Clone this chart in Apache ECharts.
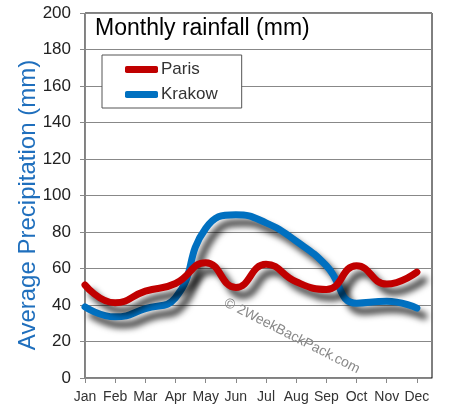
<!DOCTYPE html>
<html>
<head>
<meta charset="utf-8">
<script src="https://cdn.jsdelivr.net/npm/echarts@6/dist/echarts.min.js"></script>
<style>html,body{margin:0;padding:0;background:#fff}#c{width:452px;height:418px}</style>
</head>
<body>
<div id="c"></div>
<script>
const months = ['Jan','Feb','Mar','Apr','May','Jun','Jul','Aug','Sep','Oct','Nov','Dec'];
const paris = [51.0, 41.2, 47.6, 51.8, 63.2, 49.6, 62.3, 52.7, 48.5, 61.5, 51.5, 58.0];
const krakow = [39, 33.5, 38, 44, 82, 89.5, 85, 75, 61.5, 41, 42, 38.3];
const yTicks = [0, 20, 40, 60, 80, 100, 120, 140, 160, 180, 200];
const titleText = 'Monthly rainfall (mm)';
const yName = 'Average Precipitation (mm)';
const watermark = '\u00A9 2WeekBackPack.com';

const font = 'Liberation Sans';
const idx = months.map((m, i) => i);
const shadow = {shadowColor: 'rgba(0,0,0,0.75)', shadowBlur: 6, shadowOffsetX: 7, shadowOffsetY: 8};

const chart = echarts.init(document.getElementById('c'), null, {renderer: 'canvas'});
chart.setOption({
  animation: false,
  textStyle: {fontFamily: font},
  grid: {left: 85, top: 13, right: 20, bottom: 40, show: true, borderColor: '#000', borderWidth: 1},
  title: {text: titleText, left: 95, top: 17, padding: 0,
    textStyle: {fontFamily: font, fontSize: 23, fontWeight: 'normal', color: '#000'}},
  legend: {
    orient: 'vertical', left: 102, top: 55,
    padding: [6, 24, 5, 23], itemGap: 8, itemWidth: 33, itemHeight: 7,
    borderColor: '#555', borderWidth: 1, backgroundColor: '#fff',
    icon: 'roundRect',
    textStyle: {fontFamily: font, fontSize: 17, color: '#333', padding: [0,0,0,-2]},
    itemStyle: {shadowBlur: 0, shadowOffsetX: 0, shadowOffsetY: 0, shadowColor: 'transparent'},
    lineStyle: {shadowBlur: 0, shadowOffsetX: 0, shadowOffsetY: 0, shadowColor: 'transparent'},
    data: ['Paris', 'Krakow']
  },
  xAxis: {
    type: 'value', min: 0, max: 11.5, interval: 1,
    axisLine: {show: true, lineStyle: {color: '#888'}},
    axisTick: {show: true, length: 5, lineStyle: {color: '#888'}, customValues: idx},
    axisLabel: {customValues: idx, margin: 12, fontSize: 14, color: '#333',
      formatter: v => (Number.isInteger(v) && v >= 0 && v < months.length) ? months[v] : ''},
    splitLine: {show: false}
  },
  yAxis: {
    type: 'value', min: 0, max: 200, interval: 20,
    axisLine: {show: true, lineStyle: {color: '#888'}},
    axisTick: {show: true, length: 5, lineStyle: {color: '#888'}},
    axisLabel: {margin: 14, fontSize: 17, color: '#222', customValues: yTicks},
    splitLine: {show: true, lineStyle: {color: '#888', width: 1}}
  },
  graphic: [
    {type: 'text', z: 10, x: 28, y: 205, rotation: Math.PI / 2,
      style: {text: yName, font: '24px "' + font + '"', fill: '#1f6fbd', textAlign: 'center', textVerticalAlign: 'middle'}},
    {type: 'text', z: 1, x: 292, y: 336, rotation: -0.47,
      style: {text: watermark, font: '14px "' + font + '"', fill: '#888', textAlign: 'center', textVerticalAlign: 'middle'}}
  ],
  series: [
    {name: 'Paris', type: 'line', smooth: 0.5, showSymbol: false, symbol: 'none',
      data: paris.map((v, i) => [idx[i], v]), color: '#c00000',
      lineStyle: Object.assign({width: 7, color: '#c00000', cap: 'round'}, shadow), z: 3},
    {name: 'Krakow', type: 'line', smooth: 0.5, showSymbol: false, symbol: 'none',
      data: krakow.map((v, i) => [idx[i], v]), color: '#0070c0',
      lineStyle: Object.assign({width: 7, color: '#0070c0', cap: 'round'}, shadow), z: 2}
  ]
});
</script>
</body>
</html>
